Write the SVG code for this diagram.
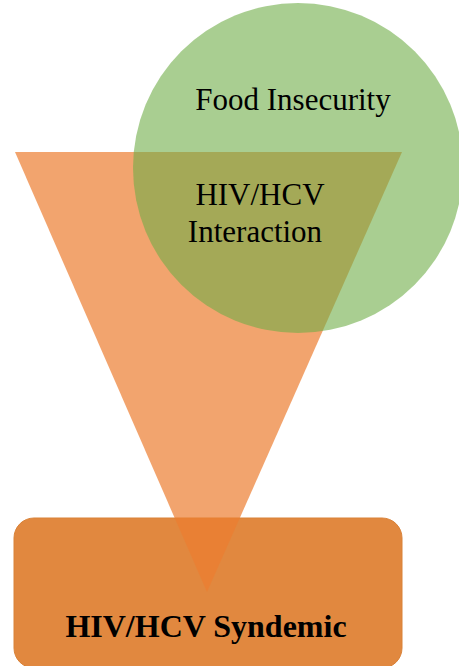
<svg xmlns="http://www.w3.org/2000/svg" width="459" height="666" viewBox="0 0 459 666">
<style>
text { font-family: "Liberation Serif", "Times New Roman", serif; fill: #000; text-anchor: middle; }
.lbl { font-size: 31px; }
.bold { font-size: 32px; font-weight: bold; }
</style>
<rect width="459" height="666" fill="#ffffff"/>
<g id="syndemic">
<rect x="14" y="518" width="388" height="150" rx="20" ry="20" fill="#e1883f" stroke="#d98238" stroke-width="1"/>
</g>
<g id="interaction">
<polygon points="15,152 402,152 207,592" fill="#ed7d31" fill-opacity="0.7"/>
</g>
<g id="food-insecurity">
<circle cx="298" cy="168" r="165" fill="#70ad47" fill-opacity="0.6"/>
<text class="lbl" x="293" y="110">Food Insecurity</text>
</g>
<g id="labels">
<text class="lbl" x="260" y="205">HIV/HCV</text>
<text class="lbl" x="255" y="242">Interaction</text>
<text class="bold" x="206" y="637">HIV/HCV Syndemic</text>
</g>
<g id="connectors"></g>
</svg>
